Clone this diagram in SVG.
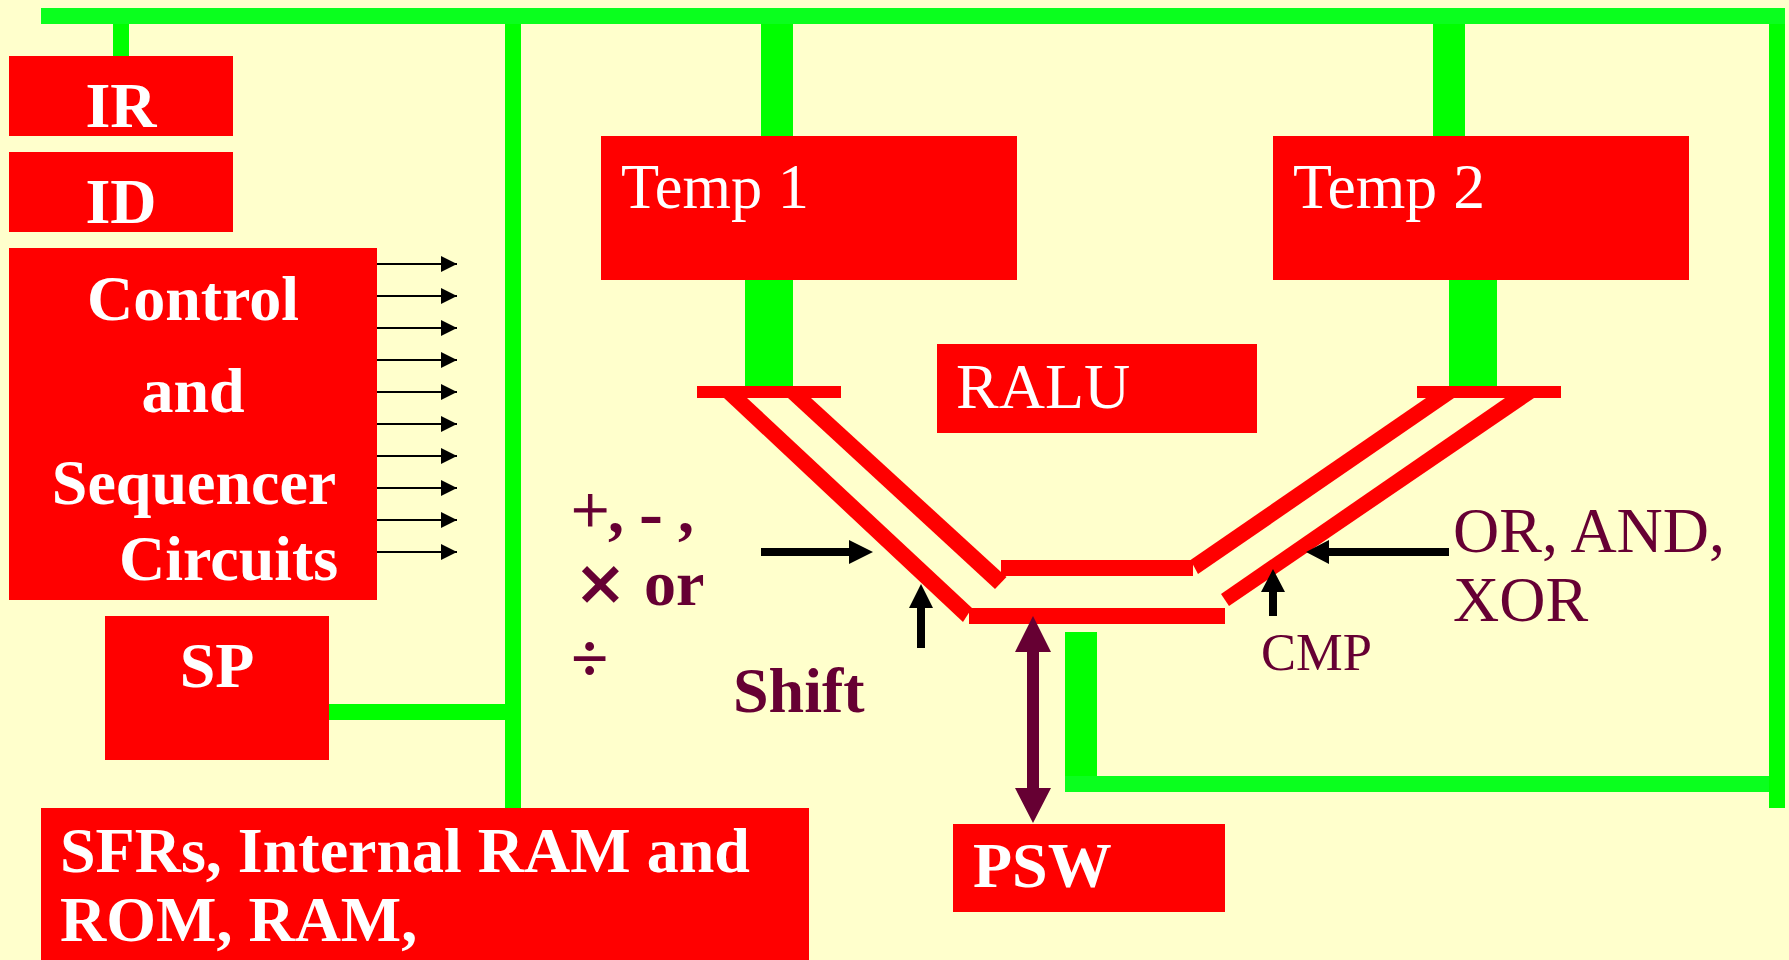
<svg xmlns="http://www.w3.org/2000/svg" width="1789" height="960" viewBox="0 0 1789 960">
<style>
.n{fill:#f00}
.g{fill:#0f0}
.g2{fill:#0aff1e}
.k{fill:#000}
.p{fill:#603}
text{font-family:"Liberation Serif","Times New Roman",serif;font-size:64px}
.w{fill:#fff}
.b{font-weight:bold}
.m{text-anchor:middle}
.l{fill:#603}
</style>
<defs>
<marker id="ah" markerUnits="userSpaceOnUse" markerWidth="16" markerHeight="16" refX="16" refY="8" orient="auto"><path d="M0 0L16 8L0 16Z" fill="#000"/></marker>
</defs>
<rect width="1789" height="960" fill="#ffc"/>
<g id="alu">
<rect class="n" x="697" y="386" width="144" height="12"/>
<rect class="n" x="1417" y="386" width="144" height="12"/>
<polygon class="n" points="724,398 747,398 972,608 963,622"/>
<polygon class="n" points="788,398 811,398 1006.5,577 995,589"/>
<rect class="n" x="1001" y="560" width="192" height="16"/>
<rect class="n" x="969" y="608" width="256" height="16"/>
<polygon class="n" points="1426,398 1454,398 1198,574 1190.5,560"/>
<polygon class="n" points="1505,398 1534,398 1229,606 1221,594"/>
</g>
<g id="connectors">
<rect class="g" x="113" y="24" width="16" height="32"/>
<rect class="g" x="505" y="24" width="16" height="784"/>
<rect class="g" x="761" y="24" width="32" height="112"/>
<rect class="g" x="1433" y="24" width="32" height="112"/>
<rect class="g" x="745" y="280" width="48" height="106"/>
<rect class="g" x="1449" y="280" width="48" height="106"/>
<rect class="g" x="329" y="704" width="176" height="16"/>
<rect class="g" x="1065" y="632" width="32" height="160"/>
<rect class="g2" x="1065" y="776" width="704" height="16"/>
<rect class="g" x="1769" y="24" width="16" height="784"/>
<rect class="g2" x="41" y="8" width="1744" height="16"/>
<g stroke="#000" stroke-width="2" marker-end="url(#ah)">
<line x1="377" y1="264" x2="457" y2="264"/>
<line x1="377" y1="296" x2="457" y2="296"/>
<line x1="377" y1="328" x2="457" y2="328"/>
<line x1="377" y1="360" x2="457" y2="360"/>
<line x1="377" y1="392" x2="457" y2="392"/>
<line x1="377" y1="424" x2="457" y2="424"/>
<line x1="377" y1="456" x2="457" y2="456"/>
<line x1="377" y1="488" x2="457" y2="488"/>
<line x1="377" y1="520" x2="457" y2="520"/>
<line x1="377" y1="552" x2="457" y2="552"/>
</g>
<polygon class="k" points="761,548 849,548 849,540 873,552 849,564 849,556 761,556"/>
<polygon class="k" points="917,648 917,608 909,608 921,584 933,608 925,608 925,648"/>
<polygon class="k" points="1449,548 1329,548 1329,540 1306,552 1329,564 1329,556 1449,556"/>
<polygon class="k" points="1269,616 1269,592 1261,592 1273,569 1285,592 1277,592 1277,616"/>
<polygon class="p" points="1033,616 1051,652 1039,652 1039,788 1051,788 1033,823 1015,788 1027,788 1027,652 1015,652"/>
</g>
<g id="ir"><rect class="n" x="9" y="56" width="224" height="80"/><text class="w b m" x="121" y="127">IR</text></g>
<g id="id"><rect class="n" x="9" y="152" width="224" height="80"/><text class="w b m" x="121" y="223">ID</text></g>
<g id="control"><rect class="n" x="9" y="248" width="368" height="352"/>
<text class="w b m" x="193" y="320">Control</text>
<text class="w b m" x="193" y="412">and</text>
<text class="w b m" x="194" y="504">Sequencer</text>
<text class="w b" x="119" y="580">Circuits</text></g>
<g id="sp"><rect class="n" x="105" y="616" width="224" height="144"/><text class="w b m" x="217" y="687">SP</text></g>
<g id="sfrs"><rect class="n" x="41" y="808" width="768" height="152"/>
<text class="w b" x="60" y="872">SFRs, Internal RAM and</text>
<text class="w b" x="60" y="941">ROM, RAM,</text></g>
<g id="temp1"><rect class="n" x="601" y="136" width="416" height="144"/><text class="w" x="621" y="208" textLength="188" lengthAdjust="spacingAndGlyphs">Temp 1</text></g>
<g id="temp2"><rect class="n" x="1273" y="136" width="416" height="144"/><text class="w" x="1293" y="208" textLength="192" lengthAdjust="spacingAndGlyphs">Temp 2</text></g>
<g id="ralu"><rect class="n" x="937" y="344" width="320" height="89"/><text class="w" x="956" y="408">RALU</text></g>
<g id="psw"><rect class="n" x="953" y="824" width="272" height="88"/><text class="w b" x="973" y="887">PSW</text></g>
<g id="labels">
<text class="l b"><tspan x="571" y="533" style="font-size:68px;font-weight:normal;stroke:#603;stroke-width:1px">+</tspan><tspan x="608" y="532">,</tspan><tspan x="639" y="537" style="font-size:72px">-</tspan><tspan x="678" y="532">,</tspan></text>
<text class="l b" x="574" y="604" style="font-family:'DejaVu Sans',sans-serif;font-size:63px">×</text>
<text class="l b" x="644" y="605">or</text>
<text class="l b" x="571" y="681" style="font-size:68px">÷</text>
<text class="l b" x="733" y="712">Shift</text>
<text class="l" x="1453" y="552">OR, AND,</text>
<text class="l" x="1453" y="621">XOR</text>
<text class="l" x="1261" y="670" style="font-size:52.5px">CMP</text>
</g>
</svg>
